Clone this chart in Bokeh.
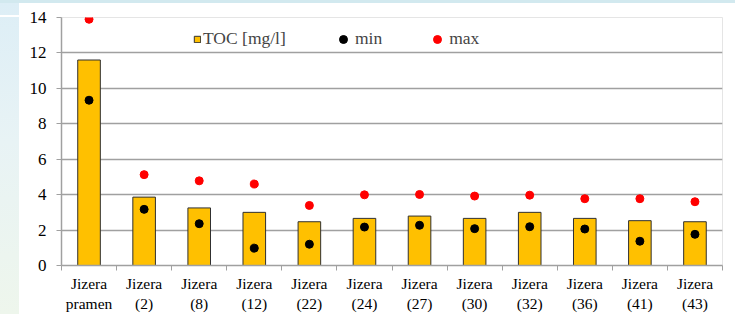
from bokeh.plotting import figure
from bokeh.models import FixedTicker, Range1d, Legend, LegendItem, ColumnDataSource
from bokeh.embed import file_html
from bokeh.resources import INLINE

categories = ["Jizera\npramen", "Jizera\n(2)", "Jizera\n(8)", "Jizera\n(12)", "Jizera\n(22)",
              "Jizera\n(24)", "Jizera\n(27)", "Jizera\n(30)", "Jizera\n(32)", "Jizera\n(36)",
              "Jizera\n(41)", "Jizera\n(43)"]
toc = [11.6, 3.86, 3.25, 3.0, 2.47, 2.66, 2.79, 2.66, 3.0, 2.66, 2.53, 2.47]
toc_min = [9.33, 3.17, 2.36, 0.98, 1.2, 2.17, 2.27, 2.08, 2.19, 2.06, 1.37, 1.76]
toc_max = [13.9, 5.13, 4.78, 4.6, 3.39, 3.99, 4.01, 3.92, 3.97, 3.77, 3.77, 3.6]
y_ticks = [0, 2, 4, 6, 8, 10, 12, 14]

n = len(categories)
xs = [i + 0.5 for i in range(n)]
src = ColumnDataSource(dict(x=xs, toc=toc, mn=toc_min, mx=toc_max))

FONT = "Liberation Serif"
p = figure(width=735, height=314, output_backend="svg", toolbar_location=None,
           x_range=Range1d(0, n), y_range=Range1d(0, 14),
           min_border_left=61, min_border_right=13, min_border_top=17, min_border_bottom=48)
p.background_fill_color = "white"
p.border_fill_alpha = 0
# slide background: pale blue/green strip on the left and top, white panel behind the chart
p.styles = {
    "background-image": ("linear-gradient(#FFFFFF, #FFFFFF), "
                         "linear-gradient(#FFFFFF, #FFFFFF), "
                         "linear-gradient(to bottom, #D2E9EF 0px, #D2E9EF 3px, #DDEEF6 3px, "
                         "#E8F3F5 45%, #EEF6EC 100%)"),
    "background-position": "19px 3px, 0px 15px, 0px 0px",
    "background-size": "716px 311px, 19px 2px, 100% 100%",
    "background-repeat": "no-repeat",
}

bars = p.vbar(x="x", top="toc", width=0.41, source=src, fill_color="#FFC000",
              line_color="#303030", line_width=1)
mins = p.scatter(x="x", y="mn", source=src, size=8, color="black")
maxs = p.scatter(x="x", y="mx", source=src, size=8, color="#FF0000")

# axes
p.xgrid.visible = False
p.ygrid.grid_line_color = "#A0A0A0"
p.ygrid.grid_line_width = 1.5
p.yaxis.ticker = FixedTicker(ticks=y_ticks)
p.yaxis.axis_line_color = "#A0A0A0"
p.yaxis.axis_line_width = 1.5
p.yaxis.major_tick_line_color = "#A0A0A0"
p.yaxis.major_tick_out = 5
p.yaxis.major_tick_in = 0
p.yaxis.minor_tick_line_color = None
p.yaxis.minor_tick_out = 0
p.yaxis.major_label_standoff = 10
p.yaxis.major_label_text_font = FONT
p.yaxis.major_label_text_font_size = "17px"
p.yaxis.major_label_text_color = "black"

p.xaxis.ticker = FixedTicker(ticks=xs, minor_ticks=list(range(n + 1)))
p.xaxis.major_label_overrides = {x: c for x, c in zip(xs, categories)}
p.xaxis.axis_line_color = "#A0A0A0"
p.xaxis.axis_line_width = 1.5
p.xaxis.major_tick_line_color = None
p.xaxis.major_tick_out = 0
p.xaxis.major_tick_in = 0
p.xaxis.minor_tick_line_color = "#A0A0A0"
p.xaxis.minor_tick_out = 5
p.xaxis.minor_tick_in = 0
p.xaxis.major_label_standoff = 4
p.xaxis.major_label_text_font = FONT
p.xaxis.major_label_text_font_size = "15.5px"
p.xaxis.major_label_text_color = "black"
p.xaxis.major_label_text_line_height = 1.18

legend1 = Legend(items=[LegendItem(label="TOC [mg/l]", renderers=[bars])],
                 orientation="horizontal", location=(132, 216),
                 border_line_color=None, background_fill_alpha=0,
                 label_text_font=FONT, label_text_font_size="17.5px",
                 glyph_width=8, glyph_height=8, label_standoff=2,
                 padding=0, margin=0)
legend2 = Legend(items=[LegendItem(label="min", renderers=[mins]),
                        LegendItem(label="max", renderers=[maxs])],
                 orientation="horizontal", location=(272, 216),
                 border_line_color=None, background_fill_alpha=0,
                 label_text_font=FONT, label_text_font_size="17.5px",
                 glyph_width=20, glyph_height=20, label_standoff=2, spacing=45,
                 padding=0, margin=0)
p.add_layout(legend1)
p.add_layout(legend2)

open("out.html", "w").write(file_html(p, INLINE))
